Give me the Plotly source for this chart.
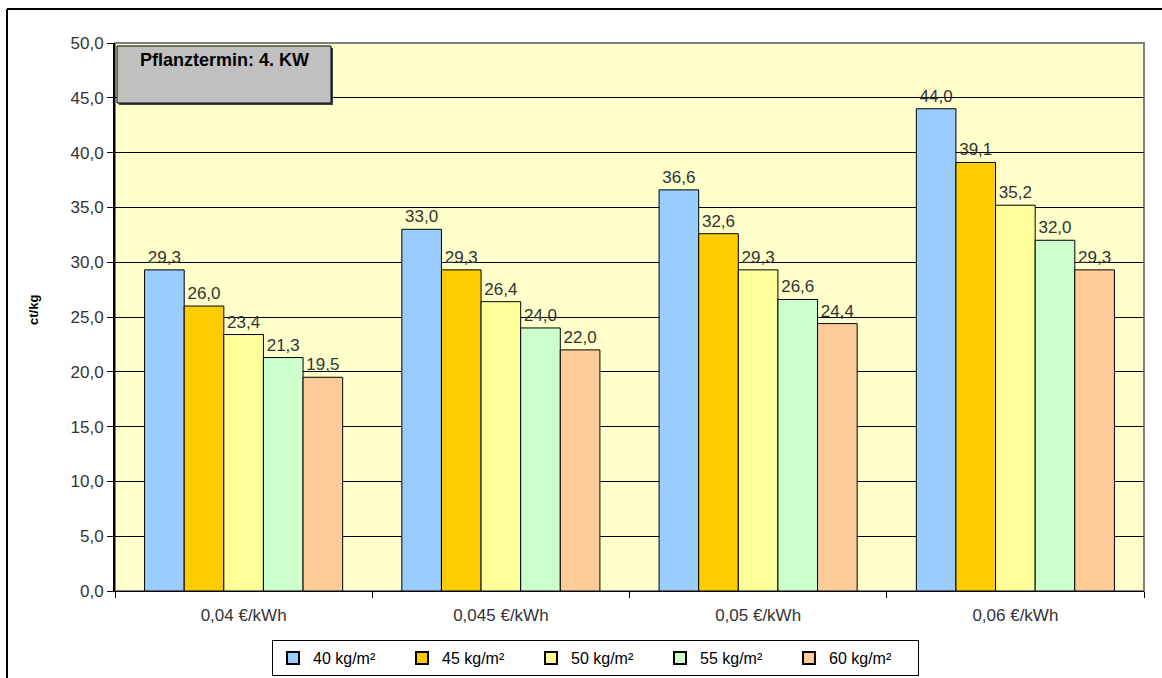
import plotly.graph_objects as go

categories = ["0,04 €/kWh", "0,045 €/kWh", "0,05 €/kWh", "0,06 €/kWh"]
series_names = ["40 kg/m²", "45 kg/m²", "50 kg/m²", "55 kg/m²", "60 kg/m²"]
v40 = [29.3, 33.0, 36.6, 44.0]
v45 = [26.0, 29.3, 32.6, 39.1]
v50 = [23.4, 26.4, 29.3, 35.2]
v55 = [21.3, 24.0, 26.6, 32.0]
v60 = [19.5, 22.0, 24.4, 29.3]
colors = ["#99ccff", "#ffcc00", "#ffff99", "#ccffcc", "#ffcc99"]
y_ticks = [0, 5, 10, 15, 20, 25, 30, 35, 40, 45, 50]

FONT = "Arial, Liberation Sans, sans-serif"
W, H = 1162, 678
ML, MR, MT, MB = 115, 18, 43, 87
PW, PH = W - ML - MR, H - MT - MB
FS = 17


def px(x):
    return (x - ML) / PW


def py(y):
    return 1 - (y - MT) / PH


fig = go.Figure()
for name, vals, col in zip(series_names, [v40, v45, v50, v55, v60], colors):
    fig.add_trace(go.Bar(
        x=categories, y=vals, name=name,
        marker=dict(color=col, line=dict(color="#000000", width=1)),
        texttemplate="%{y:.1f}", textposition="outside",
        textfont=dict(family=FONT, size=FS, color="#333333"),
        cliponaxis=False,
    ))

shapes = [
    # plot area border (gray)
    dict(type="rect", xref="paper", yref="paper", x0=0, x1=1, y0=0, y1=1,
         line=dict(color="#808080", width=2), layer="below"),
    # outer frame
    dict(type="line", xref="paper", yref="paper", x0=px(7), x1=px(1170), y0=py(9), y1=py(9),
         line=dict(color="#000000", width=2)),
    dict(type="line", xref="paper", yref="paper", x0=px(7), x1=px(7), y0=py(9), y1=py(690),
         line=dict(color="#000000", width=2)),
    # text box shadow
    dict(type="rect", xref="paper", yref="paper", x0=px(119), x1=px(333), y0=py(105), y1=py(48),
         fillcolor="#404040", line=dict(width=0)),
    # text box
    dict(type="rect", xref="paper", yref="paper", x0=px(117), x1=px(331), y0=py(103), y1=py(46),
         fillcolor="#c0c0c0", line=dict(color="#000000", width=1)),
]

annotations = [
    dict(text="<b>Pflanztermin: 4. KW</b>", xref="paper", yref="paper",
         x=px(224), y=py(60), xanchor="center", yanchor="middle", showarrow=False,
         font=dict(family=FONT, size=18, color="#000000")),
    dict(text="<b>ct/kg</b>", xref="paper", yref="paper",
         x=px(33), y=py(310), xanchor="center", yanchor="middle", showarrow=False,
         textangle=-90, font=dict(family=FONT, size=13, color="#000000")),
]

fig.update_layout(
    width=W, height=H,
    margin=dict(l=ML, r=MR, t=MT, b=MB, autoexpand=False),
    paper_bgcolor="#ffffff",
    plot_bgcolor="#ffffcc",
    separators=",.",
    barmode="group",
    bargap=0.23,
    bargroupgap=0,
    font=dict(family=FONT, size=FS, color="#333333"),
    shapes=shapes,
    annotations=annotations,
    showlegend=True,
    legend=dict(
        orientation="h", x=px(272), y=py(640), xanchor="left", yanchor="top",
        bordercolor="#000000", borderwidth=1, bgcolor="#ffffff",
        font=dict(family=FONT, size=16, color="#000000"),
        entrywidth=84, itemwidth=30, itemsizing="constant",
        traceorder="normal",
    ),
)
fig.update_xaxes(
    showline=True, linecolor="#000000", linewidth=1,
    ticks="outside", tickson="boundaries", ticklen=6, tickcolor="#000000",
    showgrid=False, tickfont=dict(family=FONT, size=FS, color="#333333"),
    ticklabelstandoff=9,
    automargin=False,
)
fig.update_yaxes(
    range=[0, 50], tickvals=y_ticks, tickformat=".1f",
    showline=True, linecolor="#000000", linewidth=2,
    ticks="outside", ticklen=6, tickcolor="#000000",
    showgrid=True, gridcolor="#000000", gridwidth=1,
    zeroline=False, automargin=False,
    tickfont=dict(family=FONT, size=FS, color="#333333"),
)

fig.write_html("out.html", config={"displayModeBar": False})
with open("out.html", "r", encoding="utf-8") as f:
    html = f.read()
html = html.replace("<head>", "<head><style>html,body{margin:0;padding:0;overflow:hidden;}</style>", 1)
with open("out.html", "w", encoding="utf-8") as f:
    f.write(html)
